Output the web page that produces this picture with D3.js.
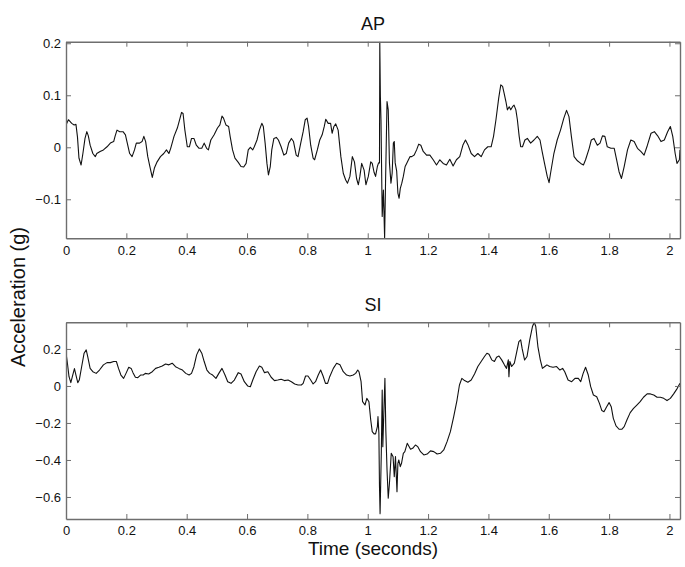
<!DOCTYPE html>
<html>
<head>
<meta charset="utf-8">
<script src="https://cdn.jsdelivr.net/npm/d3@7"></script>
<style>
  html, body { margin: 0; padding: 0; background: #fff; }
  svg { display: block; font-family: "Liberation Sans", Arial, Helvetica, sans-serif; }
</style>
</head>
<body>
<svg id="chart" width="685" height="567"></svg>
<script>
// ---- Data ----
const xTicks = [0, 0.2, 0.4, 0.6, 0.8, 1, 1.2, 1.4, 1.6, 1.8, 2];
const apTicks = [-0.1, 0, 0.1, 0.2];
const siTicks = [-0.6, -0.4, -0.2, 0, 0.2];
const apTitle = "AP";
const siTitle = "SI";
const xLabel = "Time (seconds)";
const yLabel = "Acceleration (g)";

const apT = [0.000,0.008,0.019,0.027,0.033,0.038,0.043,0.050,0.056,0.063,0.069,0.074,0.080,0.089,0.097,0.102,0.113,0.124,0.136,0.147,0.158,0.163,0.169,0.178,0.189,0.197,0.202,0.211,0.219,0.227,0.233,0.244,0.252,0.258,0.264,0.271,0.278,0.286,0.293,0.302,0.313,0.324,0.333,0.341,0.347,0.358,0.369,0.378,0.383,0.388,0.394,0.402,0.409,0.416,0.424,0.432,0.441,0.450,0.458,0.466,0.472,0.480,0.491,0.502,0.510,0.517,0.522,0.530,0.539,0.544,0.552,0.560,0.571,0.580,0.589,0.597,0.604,0.611,0.619,0.624,0.633,0.641,0.649,0.654,0.660,0.666,0.671,0.677,0.682,0.689,0.697,0.704,0.713,0.722,0.730,0.738,0.747,0.754,0.763,0.769,0.778,0.786,0.793,0.799,0.804,0.811,0.819,0.824,0.833,0.841,0.849,0.856,0.861,0.869,0.877,0.882,0.888,0.894,0.902,0.911,0.919,0.927,0.933,0.941,0.949,0.956,0.963,0.969,0.974,0.980,0.988,0.994,1.002,1.010,1.015,1.021,1.026,1.032,1.036,1.039,1.040,1.042,1.044,1.048,1.052,1.056,1.059,1.064,1.068,1.072,1.077,1.081,1.085,1.088,1.091,1.096,1.100,1.104,1.108,1.113,1.118,1.124,1.129,1.135,1.140,1.146,1.154,1.162,1.169,1.176,1.184,1.195,1.206,1.217,1.228,1.239,1.250,1.261,1.272,1.283,1.294,1.305,1.316,1.324,1.332,1.343,1.354,1.365,1.376,1.387,1.398,1.409,1.417,1.425,1.434,1.441,1.447,1.452,1.458,1.463,1.469,1.474,1.480,1.485,1.491,1.496,1.502,1.507,1.513,1.521,1.529,1.540,1.551,1.562,1.571,1.578,1.586,1.595,1.601,1.606,1.617,1.628,1.639,1.650,1.659,1.667,1.675,1.684,1.695,1.706,1.715,1.722,1.734,1.741,1.750,1.761,1.770,1.778,1.786,1.794,1.806,1.817,1.825,1.833,1.841,1.850,1.861,1.872,1.883,1.894,1.905,1.916,1.927,1.939,1.950,1.961,1.972,1.983,1.994,2.003,2.011,2.019,2.025,2.033,2.035];
const apV = [0.043,0.053,0.046,0.043,0.044,0.020,-0.021,-0.034,-0.012,0.017,0.030,0.022,0.004,-0.012,-0.018,-0.012,-0.008,-0.005,0.001,0.008,0.011,0.022,0.033,0.030,0.030,0.024,0.011,-0.012,-0.018,-0.005,0.008,0.008,0.011,0.021,0.011,-0.018,-0.037,-0.058,-0.040,-0.028,-0.018,-0.012,-0.005,-0.012,-0.002,0.021,0.037,0.056,0.067,0.065,0.033,0.001,0.001,0.017,0.017,0.004,-0.002,-0.002,0.008,-0.002,-0.005,0.014,0.024,0.037,0.043,0.060,0.056,0.043,0.040,0.021,-0.005,-0.021,-0.029,-0.037,-0.038,-0.031,-0.005,0.000,-0.005,0.001,0.014,0.033,0.046,0.040,0.008,-0.031,-0.053,-0.037,-0.005,0.017,0.019,0.014,0.001,-0.015,-0.012,0.008,0.017,0.011,-0.015,-0.018,0.008,0.030,0.053,0.056,0.040,0.004,-0.021,-0.024,-0.005,0.014,0.024,0.040,0.054,0.046,0.046,0.027,0.040,0.045,0.033,-0.018,-0.050,-0.063,-0.069,-0.056,-0.018,-0.028,-0.060,-0.072,-0.056,-0.031,-0.044,-0.072,-0.056,-0.028,-0.031,-0.048,-0.056,-0.037,-0.030,-0.030,0.203,0.097,0.052,-0.133,-0.082,-0.175,-0.070,0.088,0.072,-0.030,-0.069,-0.050,0.008,0.011,-0.030,-0.046,-0.088,-0.098,-0.079,-0.069,-0.056,-0.037,-0.031,-0.024,-0.018,-0.018,-0.015,-0.005,0.006,0.004,-0.008,-0.015,-0.015,-0.024,-0.034,-0.024,-0.031,-0.034,-0.023,-0.036,-0.024,-0.018,0.005,0.014,0.005,-0.012,-0.018,-0.012,-0.018,-0.005,0.001,0.001,0.021,0.053,0.094,0.120,0.117,0.104,0.088,0.072,0.078,0.072,0.078,0.081,0.072,0.053,0.021,0.001,0.001,0.014,0.017,0.008,0.014,0.021,0.014,-0.008,-0.031,-0.056,-0.068,-0.050,-0.012,0.014,0.033,0.056,0.071,0.059,0.021,-0.018,-0.026,-0.031,-0.034,-0.024,-0.002,0.014,0.017,0.004,0.008,0.022,0.021,0.001,-0.002,-0.002,-0.024,-0.047,-0.060,-0.037,-0.005,0.014,0.011,-0.002,-0.008,-0.015,0.004,0.027,0.030,0.022,0.011,0.014,0.030,0.040,0.021,-0.012,-0.031,-0.024,-0.005];

const siT = [0.000,0.004,0.010,0.016,0.021,0.028,0.033,0.039,0.044,0.052,0.060,0.067,0.072,0.080,0.089,0.100,0.111,0.124,0.136,0.147,0.158,0.167,0.174,0.182,0.191,0.200,0.208,0.216,0.222,0.230,0.238,0.247,0.256,0.263,0.274,0.286,0.297,0.308,0.319,0.330,0.341,0.352,0.363,0.374,0.386,0.397,0.408,0.416,0.424,0.433,0.442,0.450,0.458,0.467,0.476,0.486,0.497,0.508,0.517,0.527,0.536,0.547,0.558,0.571,0.580,0.591,0.602,0.611,0.619,0.630,0.641,0.649,0.658,0.669,0.680,0.691,0.702,0.713,0.724,0.736,0.747,0.758,0.769,0.780,0.786,0.794,0.802,0.811,0.819,0.827,0.836,0.844,0.852,0.860,0.867,0.874,0.886,0.897,0.908,0.919,0.930,0.941,0.952,0.960,0.967,0.971,0.978,0.983,0.991,0.997,1.004,1.010,1.015,1.021,1.026,1.032,1.034,1.037,1.039,1.041,1.045,1.048,1.050,1.053,1.057,1.060,1.064,1.068,1.072,1.078,1.084,1.088,1.092,1.097,1.100,1.103,1.108,1.112,1.118,1.123,1.131,1.136,1.142,1.149,1.158,1.166,1.175,1.186,1.197,1.208,1.219,1.230,1.241,1.252,1.263,1.274,1.285,1.296,1.304,1.312,1.321,1.332,1.343,1.354,1.365,1.376,1.387,1.395,1.402,1.411,1.420,1.427,1.435,1.444,1.453,1.460,1.466,1.468,1.471,1.477,1.486,1.493,1.501,1.507,1.512,1.520,1.528,1.537,1.546,1.552,1.557,1.564,1.572,1.579,1.587,1.594,1.603,1.614,1.626,1.637,1.646,1.653,1.664,1.676,1.687,1.698,1.706,1.714,1.722,1.731,1.739,1.748,1.759,1.768,1.776,1.783,1.792,1.800,1.807,1.814,1.823,1.833,1.842,1.850,1.859,1.870,1.881,1.892,1.903,1.914,1.926,1.937,1.948,1.959,1.970,1.981,1.992,2.003,2.014,2.026,2.035];
const siV = [0.177,0.132,0.050,0.018,0.050,0.094,0.059,0.018,0.032,0.105,0.177,0.195,0.159,0.095,0.077,0.068,0.086,0.114,0.126,0.126,0.132,0.132,0.095,0.059,0.041,0.072,0.101,0.095,0.072,0.047,0.045,0.059,0.059,0.068,0.065,0.077,0.095,0.101,0.108,0.119,0.114,0.123,0.104,0.095,0.086,0.068,0.059,0.068,0.104,0.168,0.200,0.177,0.132,0.086,0.068,0.059,0.041,0.072,0.095,0.059,0.023,0.014,0.032,0.072,0.065,0.023,0.000,-0.004,0.032,0.077,0.108,0.101,0.072,0.077,0.047,0.029,0.032,0.036,0.029,0.032,0.023,0.011,0.005,0.005,0.014,0.054,0.054,0.032,0.011,0.023,0.059,0.086,0.054,0.014,0.014,0.050,0.095,0.123,0.114,0.077,0.059,0.054,0.059,0.068,0.086,0.077,0.023,-0.085,-0.103,-0.067,-0.085,-0.184,-0.247,-0.259,-0.259,-0.220,-0.166,-0.256,-0.544,-0.690,-0.364,-0.022,-0.328,-0.166,0.041,-0.238,-0.454,-0.607,-0.526,-0.364,-0.382,-0.490,-0.382,-0.571,-0.418,-0.400,-0.436,-0.418,-0.364,-0.355,-0.310,-0.324,-0.342,-0.337,-0.319,-0.328,-0.355,-0.373,-0.368,-0.351,-0.355,-0.368,-0.364,-0.346,-0.301,-0.247,-0.166,-0.076,0.005,0.041,0.029,0.020,0.032,0.065,0.105,0.132,0.159,0.177,0.171,0.141,0.132,0.155,0.162,0.141,0.114,0.095,0.141,0.050,0.132,0.105,0.123,0.177,0.240,0.249,0.200,0.140,0.159,0.249,0.321,0.344,0.321,0.213,0.141,0.095,0.105,0.114,0.105,0.101,0.105,0.086,0.095,0.077,0.032,0.023,0.041,0.041,0.023,0.068,0.101,0.059,-0.004,-0.049,-0.058,-0.094,-0.133,-0.139,-0.112,-0.090,-0.112,-0.175,-0.216,-0.234,-0.234,-0.220,-0.184,-0.144,-0.121,-0.103,-0.085,-0.061,-0.043,-0.043,-0.049,-0.061,-0.061,-0.067,-0.079,-0.067,-0.043,-0.013,0.014];

// ---- Layout ----
const svg = d3.select("#chart");
const plotLeft = 66, plotRight = 680;
const panels = [
  { title: apTitle, t: apT, v: apV, ticks: apTicks, domain: [-0.175, 0.203], top: 41.7, bottom: 238.3, id: "ap" },
  { title: siTitle, t: siT, v: siV, ticks: siTicks, domain: [-0.719, 0.344], top: 322.3, bottom: 519, id: "si" }
];
const x = d3.scaleLinear().domain([0, 2.035]).range([plotLeft, plotRight]);
const fmt = d => (d === 0 ? "0" : String(d).replace("-", "\u2212"));
const boxColor = "#6e6e6e";

panels.forEach(p => {
  const y = d3.scaleLinear().domain(p.domain).range([p.bottom, p.top]);
  const g = svg.append("g");

  g.append("clipPath").attr("id", "clip-" + p.id)
    .append("rect").attr("x", plotLeft).attr("y", p.top)
    .attr("width", plotRight - plotLeft).attr("height", p.bottom - p.top);

  const data = p.t.map((t, i) => [t, p.v[i]]);
  const line = d3.line().x(d => x(d[0])).y(d => y(d[1]));
  g.append("path").datum(data)
    .attr("clip-path", "url(#clip-" + p.id + ")")
    .attr("fill", "none").attr("stroke", "#111").attr("stroke-width", 1.1)
    .attr("stroke-linejoin", "round")
    .attr("d", line);

  const styleAxis = sel => {
    sel.selectAll(".domain").attr("stroke", boxColor).attr("stroke-width", 1.4);
    sel.selectAll(".tick line").attr("stroke", boxColor).attr("stroke-width", 1);
    sel.selectAll(".tick text").attr("fill", "#111").style("font-size", "13px");
  };

  g.append("g").attr("transform", `translate(0,${p.bottom})`)
    .call(d3.axisBottom(x).tickValues(xTicks).tickSizeInner(-5).tickSizeOuter(0).tickPadding(7).tickFormat(fmt))
    .call(styleAxis);
  g.append("g").attr("transform", `translate(0,${p.top})`)
    .call(d3.axisTop(x).tickValues(xTicks).tickSizeInner(-5).tickSizeOuter(0).tickFormat(""))
    .call(styleAxis);
  g.append("g").attr("transform", `translate(${plotLeft},0)`)
    .call(d3.axisLeft(y).tickValues(p.ticks).tickSizeInner(-5).tickSizeOuter(0).tickPadding(5).tickFormat(fmt))
    .call(styleAxis);
  g.append("g").attr("transform", `translate(${plotRight},0)`)
    .call(d3.axisRight(y).tickValues(p.ticks).tickSizeInner(-5).tickSizeOuter(0).tickFormat(""))
    .call(styleAxis);

  g.append("text").attr("x", (plotLeft + plotRight) / 2).attr("y", p.top - 11.5)
    .attr("text-anchor", "middle").style("font-size", "18px").attr("fill", "#111")
    .text(p.title);
});

svg.append("text").attr("x", (plotLeft + plotRight) / 2).attr("y", 555)
  .attr("text-anchor", "middle").style("font-size", "19px").attr("fill", "#111")
  .text(xLabel);

svg.append("text").attr("transform", "translate(25,297) rotate(-90)")
  .attr("text-anchor", "middle").style("font-size", "20px").attr("fill", "#111")
  .text(yLabel);
</script>
</body>
</html>
